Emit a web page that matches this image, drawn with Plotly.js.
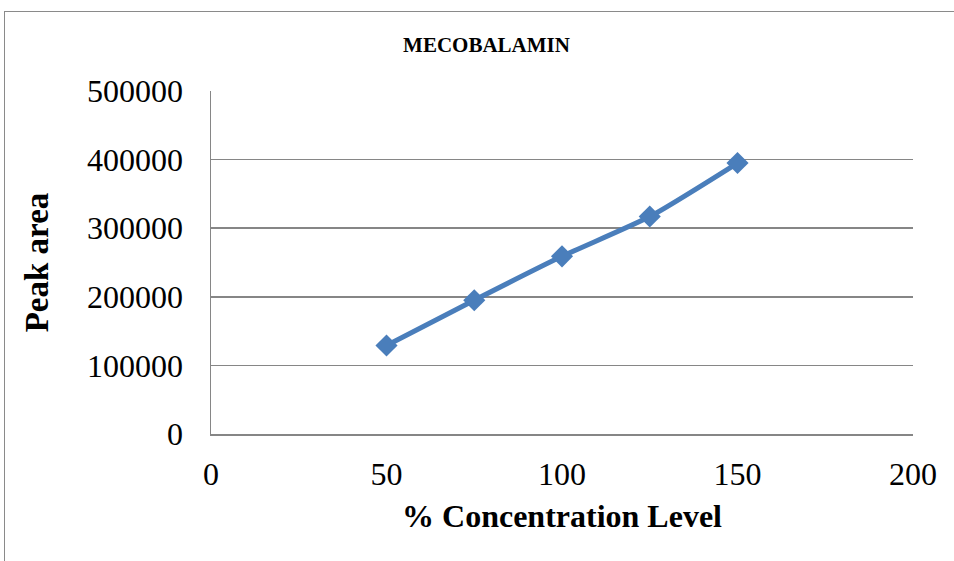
<!DOCTYPE html>
<html>
<head>
<meta charset="utf-8">
<script src="https://cdn.plot.ly/plotly-3.0.1.min.js"></script>
<style>
  html, body { margin: 0; padding: 0; background: #fff; overflow: hidden; }
  #wrap { position: relative; width: 954px; height: 561px; }
  #frame { position: absolute; left: 4px; top: 11px; width: 1000px; height: 600px;
           border: 1.5px solid #8a8a8a; box-sizing: border-box; }
  #chart { position: absolute; left: 0; top: 0; width: 954px; height: 561px; }
</style>
</head>
<body>
<div id="wrap">
  <div id="frame"></div>
  <div id="chart"></div>
</div>
<script>
// Linearity of mecobalamin: peak area vs. % concentration level
const concentration = [50, 75, 100, 125, 150];
const peakArea = [129000, 195000, 259000, 317000, 395000];
const xTicks = [0, 50, 100, 150, 200];
const yTicks = [0, 100000, 200000, 300000, 400000, 500000];

const serif = 'Liberation Serif, Times New Roman, serif';
const gridColor = '#868686';

const trace = {
  x: concentration,
  y: peakArea,
  type: 'scatter',
  mode: 'lines+markers',
  line: { color: '#4a7ebb', width: 5, shape: 'spline', smoothing: 0.6 },
  marker: { symbol: 'diamond', size: 17, color: '#4a7ebb' },
  hoverinfo: 'x+y'
};

const layout = {
  width: 954,
  height: 561,
  paper_bgcolor: 'rgba(0,0,0,0)',
  plot_bgcolor: 'rgba(0,0,0,0)',
  margin: { l: 211, r: 41, t: 91, b: 127 },
  showlegend: false,
  title: {
    text: '<b>MECOBALAMIN</b>',
    font: { family: serif, size: 21, color: '#000' },
    x: 0.51, xanchor: 'center',
    y: 0.92, yanchor: 'middle', yref: 'container'
  },
  xaxis: {
    range: [0, 200],
    tickvals: xTicks,
    ticktext: xTicks.map(String),
    showgrid: false,
    zeroline: false,
    showline: true,
    linecolor: gridColor,
    linewidth: 1.5,
    ticks: '',
    ticklabelstandoff: 11,
    tickfont: { family: serif, size: 32, color: '#000' },
    title: {
      text: '<b>% Concentration Level</b>',
      font: { family: serif, size: 32, color: '#000' },
      standoff: 13
    }
  },
  yaxis: {
    range: [0, 500000],
    tickvals: yTicks,
    ticktext: yTicks.map(String),
    showgrid: true,
    gridcolor: gridColor,
    gridwidth: 1.5,
    zeroline: false,
    showline: true,
    linecolor: gridColor,
    linewidth: 1.5,
    ticks: '',
    ticklabelstandoff: 20,
    tickfont: { family: serif, size: 32, color: '#000' },
    title: {
      text: '<b>Peak area</b>',
      font: { family: serif, size: 33, color: '#000' },
      standoff: 28
    }
  }
};

Plotly.newPlot('chart', [trace], layout, { displayModeBar: false, staticPlot: true });
</script>
</body>
</html>
